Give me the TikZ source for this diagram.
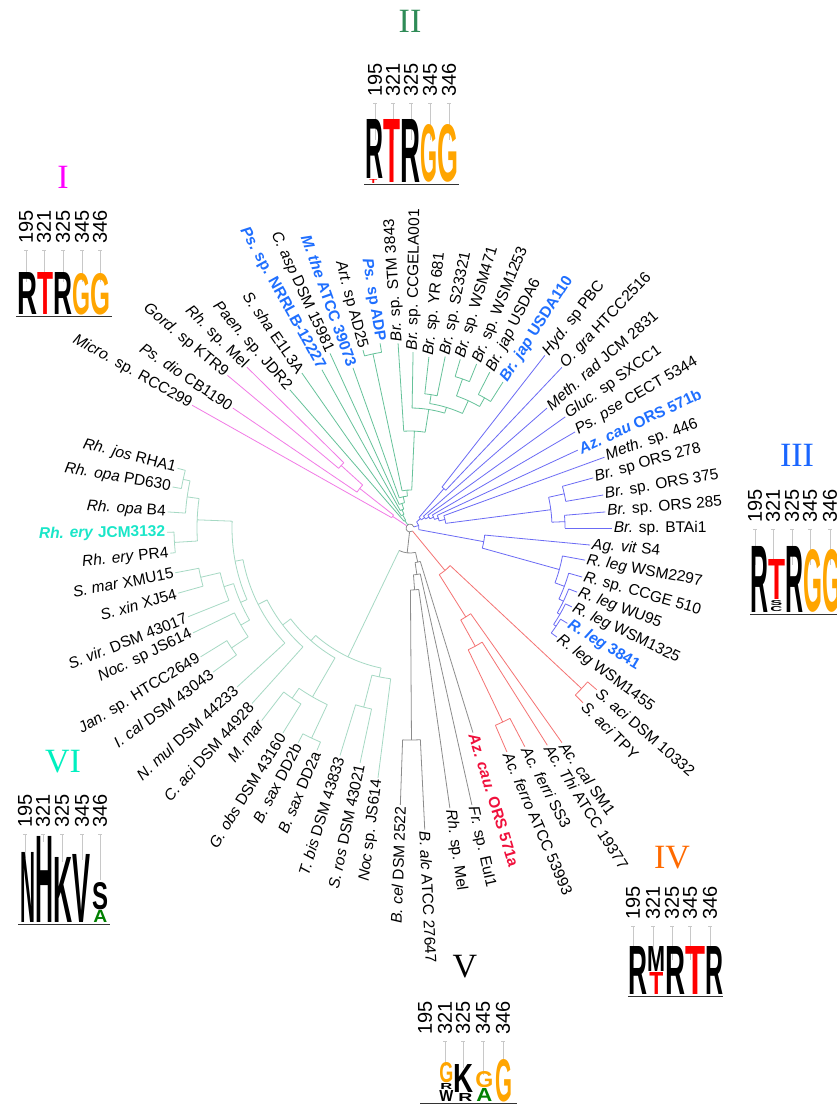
\documentclass[tikz,border=0pt]{standalone}
\usepackage{fontspec}
\setmainfont{Liberation Sans}
\newfontfamily\RomanF{Liberation Serif}
\usepackage{graphicx}
\definecolor{pinkc}{HTML}{F27AE6}
\definecolor{greenc}{HTML}{66C29A}
\definecolor{bluec}{HTML}{6B6BF5}
\definecolor{redc}{HTML}{F57373}
\definecolor{grayc}{HTML}{8C8C8C}
\definecolor{palec}{HTML}{A6D9C4}
\definecolor{boldblue}{HTML}{1F6FFF}
\definecolor{boldred}{HTML}{F0103C}
\definecolor{boldcyan}{HTML}{19E6C8}
\definecolor{magc}{HTML}{FF00FF}
\definecolor{numgreen}{HTML}{2E8B57}
\definecolor{numblue}{HTML}{1A66FF}
\definecolor{numorange}{HTML}{FF6A00}
\definecolor{numcyan}{HTML}{00F0C0}
\definecolor{lgred}{HTML}{FF0000}
\definecolor{lgorange}{HTML}{FFA500}
\definecolor{lggreen}{HTML}{008000}
\definecolor{tickc}{HTML}{C8C8C8}
\newcommand\Bnode[5]{\draw (#1:#2pt) -- (#1:#3pt); \draw (#4:#3pt) arc[start angle=#4, end angle=#5, radius=#3pt];}
\newcommand\Bleaf[3]{\draw (#1:#2pt) -- (#1:#3pt);}
\newcommand\Gi[1]{\textit{#1}}
\newcommand\LabR[5][]{\node[lbl,#1,anchor=west,rotate=#2] (#4) at (#2:#3pt) {#5};}
\newcommand\LabL[5][]{\node[lbl,#1,anchor=east,rotate=#2-180] (#4) at (#2:#3pt) {#5};}
\newcommand\LogoL[7]{\node[inner sep=0,anchor=south west] (#1) at (#2,-#3) {\resizebox{#4pt}{#5pt}{\textcolor{#6}{\bfseries #7}}};}
\newcommand\NumSet[7]{%
 \node[numst,rotate=90,anchor=west] (#1a) at (#2,-#7) {195};
 \node[numst,rotate=90,anchor=west] (#1b) at (#3,-#7) {321};
 \node[numst,rotate=90,anchor=west] (#1c) at (#4,-#7) {325};
 \node[numst,rotate=90,anchor=west] (#1d) at (#5,-#7) {345};
 \node[numst,rotate=90,anchor=west] (#1e) at (#6,-#7) {346};}
\newcommand\TickL[3]{\draw[tickst] (#1,-#2) -- (#1,-#3); \draw[tickst] (#1-2,-#2) -- (#1+2,-#2);}
\begin{document}
\begin{tikzpicture}[x=1pt,y=1pt,line width=0.8pt,
  lbl/.style={font=\fontsize{15.5}{16}\selectfont,inner sep=1.5pt},
  bb/.style={text=boldblue,font=\fontsize{15.5}{16}\selectfont\bfseries},
  br/.style={text=boldred,font=\fontsize{15.5}{16}\selectfont\bfseries},
  bc/.style={text=boldcyan,font=\fontsize{15.5}{16}\selectfont\bfseries},
  numst/.style={font=\fontsize{20}{20}\selectfont,inner sep=0pt},
  rn/.style={font=\RomanF\fontsize{34}{34}\selectfont,inner sep=0pt},
  tickst/.style={draw=tickc,line width=0.6pt},
  baseln/.style={draw=black!80,line width=0.9pt}]
\fill[white] (0,0) rectangle (837,-1105);
\useasboundingbox (0,0) rectangle (837,-1105);

\begin{scope}[shift={(410,-528)}]
% centre knot
\draw[grayc] (16:4pt) arc[start angle=16,end angle=309.5,radius=4pt];
% ---- clade I (pink)
\begin{scope}[color=pinkc]
\Bnode{146.2}{4}{21}{141.8}{150.6}
\Bleaf{150.6}{21}{250}
\Bnode{141.8}{21}{64}{137.75}{145.9}
\Bleaf{145.9}{64}{214}
\Bnode{137.75}{64}{93}{135.4}{140.1}
\Bleaf{140.1}{93}{238}
\Bleaf{135.4}{93}{229}
\end{scope}
% ---- clade II (green)
\begin{scope}[color=greenc]
\Bnode{125.2}{4}{9}{119.3}{131}
\Bleaf{131}{9}{183}
\Bnode{119.3}{9}{15}{113.7}{124.9}
\Bleaf{124.9}{15}{189}
\Bnode{113.7}{15}{20}{108.4}{119.1}
\Bleaf{119.1}{20}{181}
\Bnode{108.4}{20}{26}{102.2}{114.6}
\Bleaf{114.6}{26}{192}
\Bnode{102.2}{26}{32}{94.7}{109.6}
\Bleaf{109.6}{32}{170}
\Bnode{94.7}{32}{38}{87.4}{102}
\Bnode{102}{38}{178}{99.2}{104.8}
\Bleaf{104.8}{178}{184}
\Bleaf{99.2}{178}{187}
\Bnode{87.4}{38}{97}{81}{93.7}
\Bleaf{93.7}{97}{185}
\Bnode{81}{97}{120}{73.2}{89}
\Bleaf{89}{120}{176}
\Bnode{73.2}{120}{126}{65.4}{81}
\Bnode{81}{126}{135}{78.4}{83.7}
\Bleaf{83.7}{135}{172}
\Bleaf{78.4}{135}{175}
\Bnode{65.4}{126}{140}{60.2}{70.6}
\Bnode{70.6}{140}{158}{67.9}{73.4}
\Bleaf{73.4}{158}{176}
\Bleaf{67.9}{158}{177}
\Bnode{60.2}{140}{150}{57.5}{62.9}
\Bleaf{62.9}{150}{175}
\Bleaf{57.5}{150}{173}
\end{scope}
% ---- clade III (blue)
\begin{scope}[color=bluec]
\Bnode{16}{4}{9}{-10.5}{42.5}
\Bnode{42.5}{9}{14}{35.7}{49.3}
\Bnode{49.3}{14}{52}{46.6}{52}
\Bleaf{52}{52}{219}
\Bleaf{46.6}{52}{221}
\Bnode{35.7}{14}{18}{30.2}{41.2}
\Bleaf{41.2}{18}{182}
\Bnode{30.2}{18}{22}{24.75}{35.6}
\Bleaf{35.6}{22}{191}
\Bnode{24.75}{22}{26}{19.3}{30.2}
\Bleaf{30.2}{26}{191}
\Bnode{19.3}{26}{30}{13.7}{24.9}
\Bleaf{24.9}{30}{185}
\Bnode{13.7}{30}{36}{7.4}{20}
\Bleaf{20}{36}{207}
\Bnode{7.4}{36}{142}{2.35}{12.5}
\Bnode{12.5}{142}{158}{9.7}{15.3}
\Bleaf{15.3}{158}{190}
\Bleaf{9.7}{158}{196}
\Bnode{2.35}{142}{155}{0}{4.7}
\Bleaf{4.7}{155}{196}
\Bleaf{0}{155}{202}
\Bnode{-10.5}{9}{75}{-15.55}{-5.4}
\Bleaf{-5.4}{75}{181}
\Bnode{-15.55}{75}{155}{-20.7}{-10.4}
\Bleaf{-10.4}{155}{178}
\Bnode{-20.7}{155}{165}{-25.5}{-15.9}
\Bleaf{-15.9}{165}{179}
\Bnode{-25.5}{165}{170}{-29.95}{-21}
\Bleaf{-21}{170}{179}
\Bnode{-29.95}{170}{173}{-33.9}{-26}
\Bleaf{-26}{173}{180}
\Bnode{-33.9}{173}{176}{-36.6}{-31.2}
\Bleaf{-31.2}{176}{184}
\Bleaf{-36.6}{176}{183}
\end{scope}
% ---- clade IV (red)
\begin{scope}[color=redc]
\Bnode{309.5}{4}{55}{302.1}{316.9}
\Bnode{316.9}{55}{235}{314.7}{319.1}
\Bleaf{319.1}{235}{247}
\Bleaf{314.7}{235}{246}
\Bnode{302.1}{55}{105}{298.9}{305.3}
\Bleaf{305.3}{105}{263}
\Bnode{298.9}{105}{135}{295.55}{302.3}
\Bleaf{302.3}{135}{257}
\Bnode{295.55}{135}{215}{293.4}{297.7}
\Bleaf{297.7}{215}{247}
\Bleaf{293.4}{215}{244}
\end{scope}
% ---- clade V (gray)
\begin{scope}[color=grayc]
\Bnode{263.5}{4}{25}{244.3}{282.75}
\Bnode{282.75}{25}{35}{278.4}{287.1}
\Bleaf{287.1}{35}{214}
\Bnode{278.4}{35}{47}{274.25}{282.6}
\Bleaf{282.6}{47}{284}
\Bnode{274.25}{47}{62}{270.4}{278.1}
\Bleaf{278.1}{62}{283}
\Bnode{270.4}{62}{212}{268}{272.8}
\Bleaf{268}{212}{277}
\Bleaf{272.8}{212}{302}
\end{scope}
% ---- clade VI (pale)
\begin{scope}[color=palec]
\Bnode{244.3}{25}{143}{228.7}{258.3}
\Bnode{258.3}{143}{152}{255.5}{262.7}
\Bleaf{262.7}{152}{252}
\Bnode{255.5}{152}{185}{252.9}{258}
\Bleaf{252.9}{185}{238}
\Bleaf{258}{185}{240}
\Bnode{228.7}{143}{150}{217.3}{240}
\Bnode{240}{150}{195}{235.3}{244.9}
\Bnode{235.3}{195}{207}{232.4}{238.2}
\Bleaf{232.4}{207}{243}
\Bleaf{238.2}{207}{241}
\Bnode{244.9}{195}{232}{242.5}{247.3}
\Bleaf{242.5}{232}{242}
\Bleaf{247.3}{232}{241}
\Bnode{217.3}{150}{160}{206.7}{228}
\Bleaf{228}{160}{236}
\Bnode{206.7}{160}{170}{190.75}{222.6}
\Bleaf{222.6}{170}{235}
\Bnode{190.75}{170}{178}{177.8}{203.7}
\Bnode{177.8}{178}{213}{172.05}{183.5}
\Bnode{172.05}{213}{225}{167.9}{176.2}
\Bleaf{176.2}{225}{243}
\Bnode{167.9}{225}{232}{165.6}{170.2}
\Bleaf{165.6}{232}{240}
\Bleaf{170.2}{232}{241}
\Bnode{183.5}{213}{236}{181}{186}
\Bleaf{181}{236}{243}
\Bleaf{186}{236}{241}
\Bnode{203.7}{178}{185}{197.5}{209.85}
\Bnode{197.5}{185}{195}{193.25}{201.8}
\Bleaf{201.8}{195}{239}
\Bnode{193.25}{195}{215}{190.8}{195.7}
\Bleaf{195.7}{215}{241}
\Bleaf{190.8}{215}{239}
\Bnode{209.85}{185}{195}{205.8}{213.9}
\Bleaf{205.8}{195}{241}
\Bnode{213.9}{195}{215}{211.6}{216.2}
\Bleaf{211.6}{215}{246}
\Bleaf{216.2}{215}{244}
\end{scope}

% ---- labels
\LabL{150.6}{250}{t1}{\Gi{Micro.} sp. RCC299}
\LabL{145.9}{214}{t2}{\Gi{Ps. dio} CB1190}
\LabL{140.1}{238}{t3}{\Gi{Gord.} sp KTR9}
\LabL{135.4}{229}{t4}{\Gi{Rh.} sp. Mel}
\LabL{131}{183}{t5}{\Gi{Paen.} sp. JDR2}
\LabL{124.9}{189}{t6}{\Gi{S. sha} E1L3A}
\LabL[bb]{119.1}{181}{t7}{\Gi{Ps.} sp. NRRLB-12227}
\LabL{114.6}{192}{t8}{\Gi{C. asp} DSM 15981}
\LabL[bb]{109.6}{170}{t9}{\Gi{M. the} ATCC 39073}
\LabL{104.8}{184}{t10}{\Gi{Art.} sp AD25}
\LabL[bb]{99.2}{187}{t11}{\Gi{Ps.} sp ADP}
\LabR{93.7}{185}{t12}{\Gi{Br.} sp. STM 3843}
\LabR{89}{176}{t13}{\Gi{Br.} sp. CCGELA001}
\LabR{83.7}{172}{t14}{\Gi{Br.} sp. YR 681}
\LabR{78.4}{175}{t15}{\Gi{Br.} sp. S23321}
\LabR{73.4}{176}{t16}{\Gi{Br.} sp. WSM471}
\LabR{67.9}{177}{t17}{\Gi{Br.} sp. WSM1253}
\LabR{62.9}{175}{t18}{\Gi{Br. jap} USDA6}
\LabR[bb]{57.5}{173}{t19}{\Gi{Br. jap} USDA110}
\LabR{52}{219}{t20}{\Gi{Hyd.} sp PBC}
\LabR{46.6}{221}{t21}{\Gi{O. gra} HTCC2516}
\LabR{41.2}{182}{t22}{\Gi{Meth. rad} JCM 2831}
\LabR{35.6}{191}{t23}{\Gi{Gluc.} sp SXCC1}
\LabR{30.2}{191}{t24}{\Gi{Ps. pse} CECT 5344}
\LabR[bb]{24.9}{185}{t25}{\Gi{Az. cau} ORS 571b}
\LabR{20}{207}{t26}{\Gi{Meth.} sp. 446}
\LabR{15.3}{190}{t27}{\Gi{Br.} sp ORS 278}
\LabR{9.7}{196}{t28}{\Gi{Br.} sp. ORS 375}
\LabR{4.7}{196}{t29}{\Gi{Br.} sp. ORS 285}
\LabR{0}{202}{t30}{\Gi{Br.} sp. BTAi1}
\LabR{-5.4}{181}{t31}{\Gi{Ag. vit} S4}
\LabR{-10.4}{178}{t32}{\Gi{R. leg} WSM2297}
\LabR{-15.9}{179}{t33}{\Gi{R.} sp. CCGE 510}
\LabR{-21}{179}{t34}{\Gi{R. leg} WU95}
\LabR{-26}{180}{t35}{\Gi{R. leg} WSM1325}
\LabR[bb]{-31.2}{184}{t36}{\Gi{R. leg} 3841}
\LabR{-36.6}{183}{t37}{\Gi{R. leg} WSM1455}
\LabR{319.1}{247}{t38}{\Gi{S. aci} DSM 10332}
\LabR{314.7}{246}{t39}{\Gi{S. aci} TPY}
\LabR{305.3}{263}{t40}{\Gi{Ac. cal} SM1}
\LabR{302.3}{257}{t41}{\Gi{Ac. Thi} ATCC 19377}
\LabR{297.7}{247}{t42}{\Gi{Ac. ferri} SS3}
\LabR{293.4}{244}{t43}{\Gi{Ac. ferro} ATCC 53993}
\LabR[br]{287.1}{214}{t44}{\Gi{Az. cau.} ORS 571a}
\LabR{282.6}{284}{t45}{\Gi{Fr.} sp. EuI1}
\LabR{278.1}{283}{t46}{\Gi{Rh.} sp. Mel}
\LabR{272.8}{302}{t47}{\Gi{B. alc} ATCC 27647}
\LabL{268}{277}{t48}{\Gi{B. cel} DSM 2522}
\LabL{262.7}{252}{t49}{\Gi{Noc} sp. JS614}
\LabL{258}{240}{t50}{\Gi{S. ros} DSM 43021}
\LabL{252.9}{238}{t51}{\Gi{T. bis} DSM 43833}
\LabL{247.3}{241}{t52}{\Gi{B. sax} DD2a}
\LabL{242.5}{242}{t53}{\Gi{B. sax} DD2b}
\LabL{238.2}{241}{t54}{\Gi{G. obs} DSM 43160}
\LabL{232.4}{243}{t55}{\Gi{M. mar}}
\LabL{228}{236}{t56}{\Gi{C. aci} DSM 44928}
\LabL{222.6}{235}{t57}{\Gi{N. mul} DSM 44233}
\LabL{216.2}{244}{t58}{\Gi{I. cal} DSM 43043}
\LabL{211.6}{246}{t59}{\Gi{Jan.} sp. HTCC2649}
\LabL{205.8}{241}{t60}{\Gi{Noc.} sp JS614}
\LabL{201.8}{239}{t61}{\Gi{S. vir.} DSM 43017}
\LabL{195.7}{241}{t62}{\Gi{S. xin} XJ54}
\LabL{190.8}{239}{t63}{\Gi{S. mar} XMU15}
\LabL{186}{241}{t64}{\Gi{Rh. ery} PR4}
\LabL[bc]{181}{243}{t65}{\Gi{Rh. ery} JCM3132}
\LabL{176.2}{243}{t66}{\Gi{Rh. opa} B4}
\LabL{170.2}{241}{t67}{\Gi{Rh. opa} PD630}
\LabL{165.6}{240}{t68}{\Gi{Rh. jos} RHA1}
\end{scope}

% ---- roman numerals
\node[rn,text=magc] (rI) at (63,-177) {I};
\node[rn,text=numgreen] (rII) at (410,-21) {II};
\node[rn,text=numblue] (rIII) at (797,-455) {III};
\node[rn,text=numorange] (rIV) at (672,-858) {IV};
\node[rn,text=black] (rV) at (465,-967) {V};
\node[rn,text=numcyan] (rVI) at (63,-762) {VI};

% ---- logo I
\NumSet{nI}{26}{44}{63}{82}{100}{244}
\TickL{26}{250}{282}\TickL{44}{250}{282}\TickL{63}{250}{282}\TickL{82}{250}{282}\TickL{100}{250}{282}
\LogoL{aI1}{17}{315}{20}{42}{black}{R}
\LogoL{aI2}{37}{315}{16}{42}{lgred}{T}
\LogoL{aI3}{53}{315}{19}{42}{black}{R}
\LogoL{aI4}{72}{315}{18}{41}{lgorange}{G}
\LogoL{aI5}{90}{315}{20}{41}{lgorange}{G}
\draw[baseln] (16,-316) -- (112,-316);
% ---- logo II
\NumSet{nII}{375}{393}{411}{430}{449}{97}
\TickL{375}{103}{140}\TickL{393}{103}{140}\TickL{411}{103}{140}\TickL{430}{103}{140}\TickL{449}{103}{140}
\LogoL{aII1}{365}{179}{18}{59}{black}{R}
\LogoL{aII1b}{369}{183.5}{8}{4}{lgred}{T}
\LogoL{aII2}{383}{183}{17}{63}{lgred}{T}
\LogoL{aII3}{400}{183}{20}{63}{black}{R}
\LogoL{aII4}{420}{183}{17}{57}{lgorange}{G}
\LogoL{aII5}{437}{183}{21}{57}{lgorange}{G}
\draw[baseln] (364,-184) -- (459,-184);
% ---- logo III
\NumSet{nIII}{755}{773}{792}{810}{830}{523}
\TickL{755}{529}{565}\TickL{773}{529}{565}\TickL{792}{529}{565}\TickL{810}{529}{565}\TickL{830}{529}{565}
\LogoL{aIII1}{750}{613}{18}{66}{black}{R}
\LogoL{aIII2}{768}{600}{17}{40}{lgred}{T}
\LogoL{aIII2b}{770}{606}{12}{5}{black}{S}
\LogoL{aIII2c}{770}{612}{12}{5}{black}{C}
\LogoL{aIII3}{785}{613}{18}{66}{black}{R}
\LogoL{aIII4}{803}{613}{19}{62}{lgorange}{G}
\LogoL{aIII5}{822}{613}{19}{62}{lgorange}{G}
\draw[baseln] (750,-614) -- (837,-614);
% ---- logo IV
\NumSet{nIV}{633}{653}{672}{690}{710}{920}
\TickL{633}{926}{960}\TickL{653}{926}{960}\TickL{672}{926}{960}\TickL{690}{926}{960}\TickL{710}{926}{960}
\LogoL{aIV1}{628}{995}{19}{48}{black}{R}
\LogoL{aIV2}{647}{972}{18}{25}{black}{M}
\LogoL{aIV2b}{649}{995}{14}{22}{lgred}{T}
\LogoL{aIV3}{665}{995}{20}{48}{black}{R}
\LogoL{aIV4}{685}{995}{20}{48}{lgred}{T}
\LogoL{aIV5}{705}{995}{18}{48}{black}{R}
\draw[baseln] (628,-996) -- (723,-996);
% ---- logo V
\NumSet{nV}{425}{445}{463}{483}{503}{1035}
\TickL{445}{1041}{1066}\TickL{463}{1041}{1068}\TickL{483}{1041}{1075}\TickL{503}{1041}{1062}
\LogoL{aV1}{439}{1083}{14}{20}{lgorange}{G}
\LogoL{aV1b}{440}{1090}{12}{6}{black}{R}
\LogoL{aV1c}{439}{1102}{14}{11}{black}{W}
\LogoL{aV2}{453}{1093}{20}{28}{black}{K}
\LogoL{aV2b}{458}{1102}{14}{8}{black}{R}
\LogoL{aV3}{475}{1088}{18}{16}{lgorange}{G}
\LogoL{aV3b}{476}{1102}{16}{13}{lggreen}{A}
\LogoL{aV4}{495}{1102}{17}{42}{lgorange}{G}
\draw[baseln] (420,-1103) -- (517,-1103);
% ---- logo VI
\NumSet{nVI}{25}{43}{62}{82}{100}{828}
\TickL{25}{834}{858}\TickL{43}{834}{842}\TickL{62}{834}{862}\TickL{82}{834}{860}\TickL{100}{834}{880}
\LogoL{aVI1}{20}{923}{15}{70}{black}{N}
\LogoL{aVI2}{35}{923}{18}{86}{black}{H}
\LogoL{aVI3}{53}{923}{19}{65}{black}{K}
\LogoL{aVI4}{72}{923}{18}{68}{black}{V}
\LogoL{aVI5}{92}{910}{16}{27}{black}{S}
\LogoL{aVI6}{93}{923}{14}{12}{lggreen}{A}
\draw[baseln] (18,-924) -- (110,-924);
\end{tikzpicture}
\end{document}
